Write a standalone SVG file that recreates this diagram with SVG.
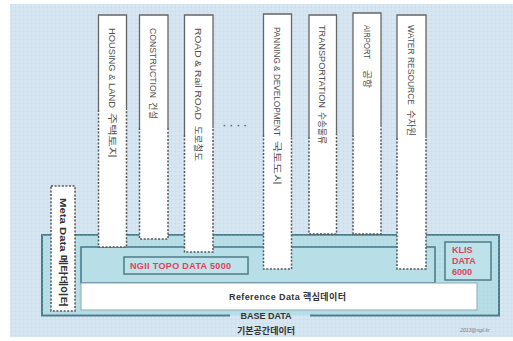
<svg xmlns="http://www.w3.org/2000/svg" width="513" height="341" viewBox="0 0 513 341">
<defs>
<pattern id="grid" width="4" height="4" patternUnits="userSpaceOnUse">
<path d="M4 0V4H0" fill="none" stroke="#c1d5e8" stroke-width="0.6"/>
</pattern>
<pattern id="grid2" width="4" height="4" patternUnits="userSpaceOnUse">
<path d="M4 0V4H0" fill="none" stroke="#a9d2dc" stroke-width="0.5"/>
</pattern>
<style>
.col{fill:#fff}
.sol{fill:none;stroke:#666;stroke-width:1.3}
.dsh{fill:none;stroke:#555;stroke-width:1.5;stroke-dasharray:2 1.6}
.ct{font-family:"Liberation Sans","Noto Sans CJK KR",sans-serif;font-size:9.5px;fill:#505050}
.red{font-family:"Liberation Sans","Noto Sans CJK KR",sans-serif;font-size:9px;font-weight:bold;fill:#e0405a}
.dk{font-family:"Liberation Sans","Noto Sans CJK KR",sans-serif;font-weight:bold;fill:#333}
.bd{fill:#b8dfe8;stroke:#4d7c8b;stroke-width:2}
</style>
</defs>
<rect x="0" y="0" width="513" height="341" fill="#fff"/>
<rect x="10" y="4" width="503" height="333" fill="#d6e6f3"/>
<rect x="10" y="4" width="503" height="333" fill="url(#grid)"/>

<g id="base">
<path d="M230 315.5H42V235H499V315.5H310" class="bd"/>
<rect x="42" y="235" width="457" height="80" fill="url(#grid2)"/>
<text x="266" y="319" class="dk" font-size="9" text-anchor="middle" fill="#2d3d55">BASE DATA</text>
<text x="266" y="334" class="dk" font-size="9" text-anchor="middle" fill="#2d3d55">기본공간데이터</text>
</g>
<g id="ngii-area">
<rect x="81" y="247" width="354" height="36" fill="#b8dfe8" stroke="#4d7c8b" stroke-width="1.6"/>
</g>
<g id="reference">
<rect x="81" y="283" width="396" height="27" fill="#fff" stroke="#8aa9b3" stroke-width="1"/>
<text x="229" y="300" class="dk" font-size="9" textLength="117">Reference Data 핵심데이터</text>
</g>
<g id="ngii">
<rect x="124" y="257" width="124" height="17" fill="#bde2ea" stroke="#4d7c8b" stroke-width="1.5"/>
<text x="130" y="269" class="red" font-size="9.5" textLength="101">NGII TOPO DATA 5000</text>
</g>
<g id="klis">
<rect x="445" y="242" width="46" height="38" fill="#bde2ea" stroke="#4d7c8b" stroke-width="1.5"/>
<text x="452" y="253" class="red">KLIS</text>
<text x="452" y="264" class="red">DATA</text>
<text x="452" y="275" class="red">6000</text>
</g>
<g id="meta">
<rect x="51" y="186" width="24" height="125" class="col"/>
<rect x="51" y="186" width="24" height="125" class="dsh"/>
<text transform="translate(59.5,198) rotate(90)" class="dk" font-size="9.5" textLength="109" lengthAdjust="spacingAndGlyphs">Meta Data 메타데이터</text>
</g>

<g id="col-housing">
<rect x="98.5" y="15" width="28" height="232" class="col"/>
<path d="M98.5 110V15H126.5V110" class="sol"/>
<path d="M98.5 110V247H126.5V110" class="dsh"/>
<g transform="translate(109,0) rotate(90)">
<text x="28" class="ct" textLength="80" lengthAdjust="spacingAndGlyphs">HOUSING &amp; LAND</text>
<text x="113" class="ct" textLength="45" lengthAdjust="spacingAndGlyphs">주택토지</text>
</g>
</g>
<g id="col-construction">
<rect x="139.5" y="15" width="28.5" height="224" class="col"/>
<path d="M139.5 128V15H168V128" class="sol"/>
<path d="M139.5 128V239H168V128" class="dsh"/>
<g transform="translate(150,0) rotate(90)">
<text x="28" class="ct" textLength="70" lengthAdjust="spacingAndGlyphs">CONSTRUCTION</text>
<text x="102" class="ct" textLength="17" lengthAdjust="spacingAndGlyphs">건설</text>
</g>
</g>
<g id="col-road">
<rect x="184.5" y="15" width="28.5" height="237" class="col"/>
<path d="M184.5 135V15H213V128" class="sol"/>
<path d="M184.5 135V252H213V128" class="dsh"/>
<g transform="translate(195,0) rotate(90)">
<text x="28" class="ct" textLength="92" lengthAdjust="spacingAndGlyphs">ROAD &amp; Rail ROAD</text>
<text x="126" class="ct" textLength="35" lengthAdjust="spacingAndGlyphs">도로철도</text>
</g>
</g>
<g id="dots">
<text x="223" y="129" class="ct" font-size="10" font-weight="bold" textLength="24">····</text>
</g>
<g id="col-panning">
<rect x="263.5" y="14" width="28" height="255" class="col"/>
<path d="M263.5 135V14H291.5V137" class="sol"/>
<path d="M263.5 135V269H291.5V137" class="dsh"/>
<g transform="translate(274,0) rotate(90)">
<text x="27" class="ct" textLength="109" lengthAdjust="spacingAndGlyphs">PANNING &amp; DEVELOPMENT</text>
<text x="141" class="ct" textLength="44" lengthAdjust="spacingAndGlyphs">국토도시</text>
</g>
</g>
<g id="col-transportation">
<rect x="309" y="15" width="27.5" height="219" class="col"/>
<path d="M309 137V15H336.5V133" class="sol"/>
<path d="M309 137V234H336.5V133" class="dsh"/>
<g transform="translate(319,0) rotate(90)">
<text x="25" class="ct" textLength="83" lengthAdjust="spacingAndGlyphs">TRANSPORTATION</text>
<text x="112" class="ct" textLength="32" lengthAdjust="spacingAndGlyphs">수송물류</text>
</g>
</g>
<g id="col-airport">
<rect x="353" y="13" width="28" height="221" class="col"/>
<path d="M353 135V13H381V127" class="sol"/>
<path d="M353 135V234H381V127" class="dsh"/>
<g transform="translate(363.5,0) rotate(90)">
<text x="25" class="ct" textLength="34" lengthAdjust="spacingAndGlyphs">AIRPORT</text>
<text x="70" class="ct" textLength="18" lengthAdjust="spacingAndGlyphs">공항</text>
</g>
</g>
<g id="col-water">
<rect x="397" y="15" width="29" height="254" class="col"/>
<path d="M397 138V15H426V138" class="sol"/>
<path d="M397 138V269H426V138" class="dsh"/>
<g transform="translate(408,0) rotate(90)">
<text x="25" class="ct" textLength="80" lengthAdjust="spacingAndGlyphs">WATER RESOURCE</text>
<text x="110" class="ct" textLength="26" lengthAdjust="spacingAndGlyphs">수자원</text>
</g>
</g>
<text x="475" y="332" font-family="Liberation Sans,sans-serif" font-size="5" font-style="italic" fill="#778" text-anchor="middle">2013@ngii.kr</text>
</svg>
